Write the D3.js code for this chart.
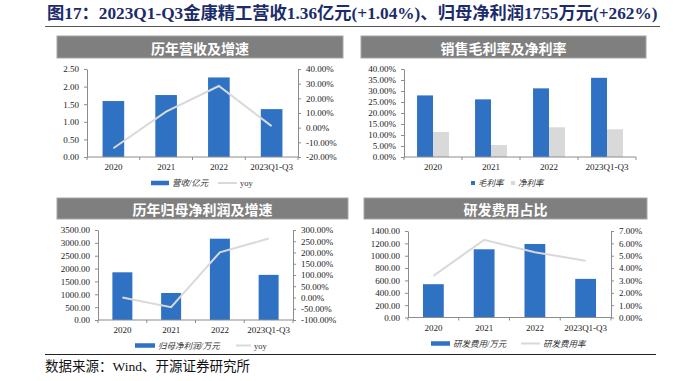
<!DOCTYPE html>
<html>
<head>
<meta charset="utf-8">
<script src="https://cdn.jsdelivr.net/npm/d3@7/dist/d3.min.js"></script>
<style>
  html, body { margin: 0; padding: 0; background: #fff; }
  svg { display: block; }
</style>
</head>
<body>
<div id="chart"></div>
<script>
// data
const categories = ["2020", "2021", "2022", "2023Q1-Q3"];
const revenue = [1.59, 1.76, 2.26, 1.36];          // 亿元
const revenueYoy = [-14.0, 10.9, 28.4, 1.04];      // %
const grossMargin = [28.0, 26.2, 31.2, 36.0];      // %
const netMargin = [11.4, 5.45, 13.5, 12.6];        // %
const netProfit = [1855, 1050, 3162, 1755];        // 万元
const netProfitYoy = [0, -43, 201, 262];           // %
const rdExpense = [539, 1104, 1190, 625];          // 万元
const rdRatio = [3.37, 6.28, 5.28, 4.6];           // %

const titleText = "图17：2023Q1-Q3金康精工营收1.36亿元(+1.04%)、归母净利润1755万元(+262%)";
const sourceText = "数据来源：Wind、开源证券研究所";

const W = 676, H = 381;
const blue = "#2f72c4";
const lightGray = "#d9d9d9";
const axisColor = "#8c8c8c";
const serif = "'Liberation Serif', 'Times New Roman', 'Noto Sans CJK SC', serif";
const cjk = "'Noto Sans CJK SC', sans-serif";

const fmt2 = d => d.toFixed(2);
const fmtPct = d => d.toFixed(2) + "%";

const svg = d3.select("#chart").append("svg")
    .attr("width", W)
    .attr("height", H)
    .style("background", "#fff");

// title
const title = svg.append("text")
    .attr("x", 47)
    .attr("y", 19)
    .attr("fill", "#1c2c6b")
    .attr("font-family", serif)
    .attr("font-weight", "bold")
    .attr("font-size", 16)
    .text(titleText);
// fit title to width
const tw = title.node().getComputedTextLength();
title.attr("font-size", 16 * 611 / tw);

svg.append("line")
    .attr("x1", 45).attr("x2", 660)
    .attr("y1", 26.5).attr("y2", 26.5)
    .attr("stroke", "#555").attr("stroke-width", 1);

svg.append("line")
    .attr("x1", 45).attr("x2", 656)
    .attr("y1", 354.5).attr("y2", 354.5)
    .attr("stroke", "#222").attr("stroke-width", 1.2);

svg.append("text")
    .attr("x", 45)
    .attr("y", 371)
    .attr("fill", "#111")
    .attr("font-family", serif)
    .attr("font-size", 13.5)
    .text(sourceText);

function header(x0, x1, y0, y1, label) {
  svg.append("rect")
      .attr("x", x0).attr("y", y0)
      .attr("width", x1 - x0).attr("height", y1 - y0)
      .attr("fill", "#7f7f7f")
      .attr("stroke", "#a6a6a6").attr("stroke-width", 1);
  svg.append("text")
      .attr("x", (x0 + x1) / 2)
      .attr("y", (y0 + y1) / 2 + 0.5)
      .attr("text-anchor", "middle")
      .attr("dominant-baseline", "central")
      .attr("fill", "#fff")
      .attr("font-family", cjk)
      .attr("font-weight", "bold")
      .attr("font-size", 14)
      .text(label);
}

function styleAxis(g) {
  g.selectAll(".domain").attr("stroke", axisColor);
  g.selectAll(".tick line").attr("stroke", axisColor);
  g.selectAll(".tick text")
      .attr("fill", "#222")
      .attr("font-family", serif)
      .attr("font-size", 9);
}

function xAxis(x, y0) {
  const [r0, r1] = x.range();
  const g = svg.append("g");
  g.append("line")
      .attr("x1", r0).attr("x2", r1)
      .attr("y1", y0).attr("y2", y0)
      .attr("stroke", axisColor);
  // boundary ticks
  d3.range(categories.length + 1).forEach(i => {
    const bx = r0 + i * x.step();
    g.append("line")
        .attr("x1", bx).attr("x2", bx)
        .attr("y1", y0).attr("y2", y0 + 3)
        .attr("stroke", axisColor);
  });
  g.selectAll("text.cat")
    .data(categories)
    .join("text")
      .attr("class", "cat")
      .attr("x", d => x(d) + x.bandwidth() / 2)
      .attr("y", y0 + 13)
      .attr("text-anchor", "middle")
      .attr("fill", "#222")
      .attr("font-family", serif)
      .attr("font-size", 9)
      .text(d => d);
}

function legendText(x, y, label, italic) {
  svg.append("text")
      .attr("x", x)
      .attr("y", y)
      .attr("dominant-baseline", "central")
      .attr("fill", "#333")
      .attr("font-family", serif)
      .attr("font-style", italic ? "italic" : "normal")
      .attr("font-size", 8.5)
      .text(label);
}

function legendRect(x, y, w, h, color, label) {
  svg.append("rect")
      .attr("x", x).attr("y", y - h / 2)
      .attr("width", w).attr("height", h)
      .attr("fill", color);
  legendText(x + w + 3, y, label, true);
}

function legendLine(x, y, w, label) {
  svg.append("line")
      .attr("x1", x).attr("x2", x + w)
      .attr("y1", y).attr("y2", y)
      .attr("stroke", lightGray).attr("stroke-width", 2);
  legendText(x + w + 3, y, label, label !== "yoy");
}

// bar + line combo chart
function comboChart(o) {
  const x = d3.scaleBand()
      .domain(categories)
      .range([o.left, o.right])
      .paddingInner(0.59)
      .paddingOuter(0.295);

  const y = d3.scaleLinear().domain(o.yDomain).range([o.bottom, o.top]);
  const y2 = d3.scaleLinear().domain(o.y2Domain).range([o.bottom, o.top]);

  svg.append("g")
      .attr("transform", `translate(${o.left},0)`)
      .call(d3.axisLeft(y).tickValues(o.yTicks).tickFormat(fmt2).tickSize(3).tickSizeOuter(0).tickPadding(5))
      .call(styleAxis);

  svg.append("g")
      .attr("transform", `translate(${o.right},0)`)
      .call(d3.axisRight(y2).tickValues(o.y2Ticks).tickFormat(fmtPct).tickSize(3).tickSizeOuter(0).tickPadding(5))
      .call(styleAxis);

  svg.append("g").selectAll("rect")
    .data(o.bars)
    .join("rect")
      .attr("x", (d, i) => x(categories[i]))
      .attr("y", d => y(d))
      .attr("width", x.bandwidth())
      .attr("height", d => o.bottom - y(d))
      .attr("fill", blue);

  xAxis(x, o.bottom);

  const line = d3.line()
      .x((d, i) => x(categories[i]) + x.bandwidth() / 2)
      .y(d => y2(d));

  svg.append("path")
      .datum(o.line)
      .attr("d", line)
      .attr("fill", "none")
      .attr("stroke", lightGray)
      .attr("stroke-width", 2);
}

// panel 1
header(57, 343, 36, 58, "历年营收及增速");
comboChart({
  left: 87, right: 298, top: 69, bottom: 157,
  yDomain: [0, 2.5], yTicks: d3.range(0, 2.51, 0.5),
  y2Domain: [-20, 40], y2Ticks: d3.range(-20, 41, 10),
  bars: revenue, line: revenueYoy
});
legendRect(151, 183, 18, 4.5, blue, "营收/亿元");
legendLine(218, 183, 19, "yoy");

// panel 2: grouped bars
header(361, 646, 36, 58, "销售毛利率及净利率");
{
  const left = 404, right = 636, top = 69, bottom = 157;
  const x = d3.scaleBand()
      .domain(categories)
      .range([left, right])
      .paddingInner(0.45)
      .paddingOuter(0.225);
  const series = ["毛利率", "净利率"];
  const values = [grossMargin, netMargin];
  const colors = [blue, lightGray];
  const x1 = d3.scaleBand().domain(series).range([0, x.bandwidth()]).padding(0);
  const y = d3.scaleLinear().domain([0, 40]).range([bottom, top]);

  svg.append("g")
      .attr("transform", `translate(${left},0)`)
      .call(d3.axisLeft(y).tickValues(d3.range(0, 41, 5)).tickFormat(fmtPct).tickSize(3).tickSizeOuter(0).tickPadding(5))
      .call(styleAxis);

  series.forEach((s, si) => {
    svg.append("g").selectAll("rect")
      .data(values[si])
      .join("rect")
        .attr("x", (d, i) => x(categories[i]) + x1(s))
        .attr("y", d => y(d))
        .attr("width", x1.bandwidth())
        .attr("height", d => bottom - y(d))
        .attr("fill", colors[si]);
  });

  xAxis(x, bottom);

  legendRect(471, 183, 4, 4, blue, "毛利率");
  legendRect(511, 183, 4, 4, lightGray, "净利率");
}

// panel 3
header(57, 348, 198, 219, "历年归母净利润及增速");
comboChart({
  left: 98, right: 293, top: 230, bottom: 320,
  yDomain: [0, 3500], yTicks: d3.range(0, 3501, 500),
  y2Domain: [-100, 300], y2Ticks: d3.range(-100, 301, 50),
  bars: netProfit, line: netProfitYoy
});
legendRect(135, 345.5, 20, 4.5, blue, "归母净利润/万元");
legendLine(236, 345.5, 15, "yoy");

// panel 4
header(364, 647, 198, 219, "研发费用占比");
comboChart({
  left: 408, right: 611, top: 231, bottom: 317.5,
  yDomain: [0, 1400], yTicks: d3.range(0, 1401, 200),
  y2Domain: [0, 7], y2Ticks: d3.range(0, 7.01, 1),
  bars: rdExpense, line: rdRatio
});
legendRect(431, 343.5, 19, 4.5, blue, "研发费用/万元");
legendLine(521, 343.5, 19, "研发费用率");
</script>
</body>
</html>
